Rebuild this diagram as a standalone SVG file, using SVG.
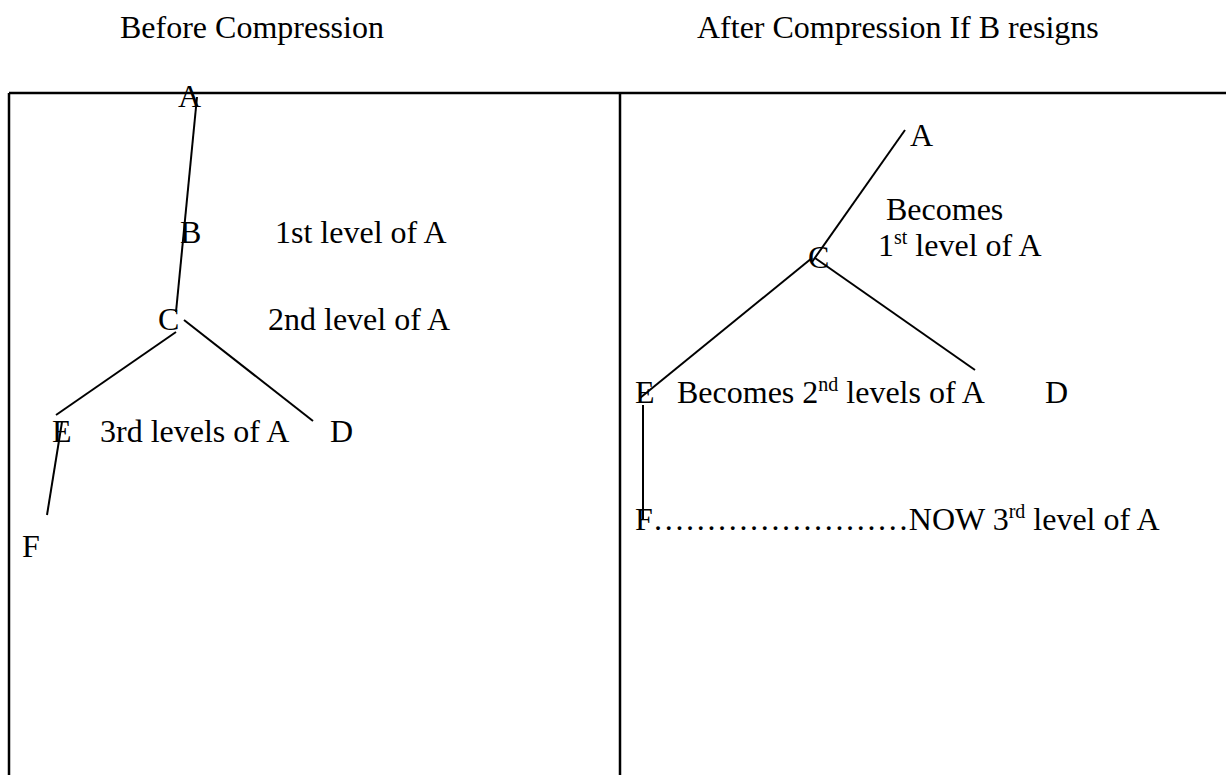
<svg xmlns="http://www.w3.org/2000/svg" width="1226" height="775" viewBox="0 0 1226 775">
<style>
text{font-family:"Liberation Serif","Times New Roman",serif;font-size:32px;fill:#000}
.sup{font-size:20px}
.ln{stroke:#000;stroke-width:2;fill:none}
.frame{stroke:#000;stroke-width:2.5;fill:none}
</style>
<rect width="1226" height="775" fill="#fff"/>
<g id="titles">
<text x="120" y="38">Before Compression</text>
<text x="697" y="38">After Compression If B resigns</text>
</g>
<g id="frame">
<line class="frame" x1="9" y1="93" x2="1226" y2="93"/>
<line class="frame" x1="9" y1="93" x2="9" y2="775"/>
<line class="frame" x1="620" y1="93" x2="620" y2="775"/>
</g>
<g id="connectors">
<line class="ln" x1="197" y1="97" x2="176" y2="312"/>
<line class="ln" x1="176" y1="332" x2="56" y2="415"/>
<line class="ln" x1="184" y1="320" x2="313" y2="421"/>
<line class="ln" x1="62" y1="422" x2="47" y2="515"/>
<line class="ln" x1="905" y1="130" x2="812" y2="262"/>
<line class="ln" x1="812" y1="258" x2="640" y2="398"/>
<line class="ln" x1="815" y1="258" x2="975" y2="370"/>
<line class="ln" x1="643" y1="405" x2="643" y2="520"/>
</g>
<g id="left-A"><text x="178" y="107">A</text></g>
<g id="left-B"><text x="180" y="243">B</text><text x="275" y="243">1st level of A</text></g>
<g id="left-C"><text x="158" y="330">C</text><text x="268" y="330">2nd level of A</text></g>
<g id="left-E"><text x="52" y="442">E</text><text x="100" y="442">3rd levels of A</text></g>
<g id="left-D"><text x="330" y="442">D</text></g>
<g id="left-F"><text x="22" y="557">F</text></g>
<g id="right-A"><text x="910" y="146">A</text></g>
<g id="right-C"><text x="808" y="268">C</text><text x="886" y="220">Becomes</text><text x="878" y="256">1<tspan class="sup" dy="-12">st</tspan><tspan dy="12"> level of A</tspan></text></g>
<g id="right-E"><text x="635" y="403">E</text><text x="677" y="403">Becomes 2<tspan class="sup" dy="-12">nd</tspan><tspan dy="12"> levels of A</tspan></text></g>
<g id="right-D"><text x="1045" y="403">D</text></g>
<g id="right-F"><text x="635" y="530">F……………………NOW 3<tspan class="sup" dy="-12">rd</tspan><tspan dy="12"> level of A</tspan></text></g>
</svg>
